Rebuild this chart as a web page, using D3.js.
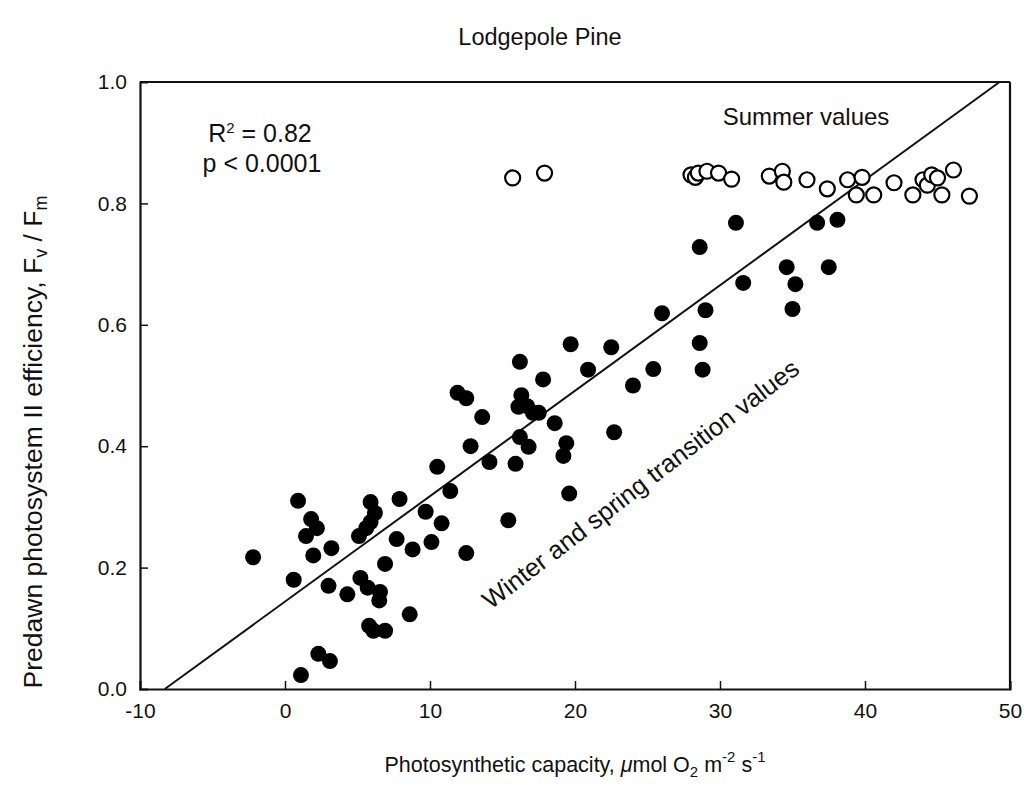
<!DOCTYPE html>
<html><head><meta charset="utf-8">
<script src="https://cdn.jsdelivr.net/npm/d3@7"></script>
<style>body{margin:0;background:#fff}text{font-family:"Liberation Sans",Arial,sans-serif;fill:#111}</style>
</head><body><svg id="c" width="1025" height="803"></svg>
<script>
const winterX=[-2.2,0.6,0.9,1.1,1.45,1.8,1.95,2.2,2.3,3.0,3.1,3.2,4.3,5.1,5.2,5.6,5.7,5.8,5.9,5.9,6.1,6.2,6.5,6.55,6.9,6.9,7.7,7.9,8.6,8.8,9.7,10.1,10.5,10.8,11.4,11.9,12.5,12.5,12.8,13.6,14.1,15.4,15.9,16.1,16.2,16.2,16.3,16.7,16.8,17.1,17.5,17.8,18.6,19.2,19.4,19.6,19.7,20.9,22.5,22.7,24.0,25.4,26.0,28.6,28.6,28.8,29.0,31.1,31.6,34.6,35.0,35.2,36.7,37.5,38.1];
const winterY=[0.217,0.18,0.31,0.023,0.252,0.28,0.22,0.265,0.058,0.17,0.046,0.232,0.156,0.252,0.183,0.265,0.167,0.104,0.275,0.308,0.096,0.29,0.146,0.16,0.206,0.096,0.247,0.313,0.123,0.23,0.292,0.242,0.366,0.273,0.326,0.488,0.479,0.224,0.4,0.448,0.374,0.278,0.371,0.465,0.539,0.415,0.484,0.466,0.399,0.455,0.455,0.51,0.438,0.384,0.405,0.322,0.568,0.526,0.563,0.423,0.5,0.527,0.619,0.57,0.728,0.526,0.624,0.768,0.669,0.695,0.626,0.667,0.768,0.695,0.773];
const summerX=[15.7,17.9,28.0,28.3,28.5,29.1,29.9,30.8,33.4,34.3,34.4,36.0,37.4,38.8,39.4,39.8,40.6,42.0,43.3,44.0,44.3,44.6,45.0,45.3,46.1,47.2];
const summerY=[0.842,0.85,0.847,0.843,0.85,0.853,0.85,0.84,0.845,0.853,0.835,0.839,0.824,0.839,0.814,0.843,0.814,0.834,0.814,0.839,0.83,0.847,0.842,0.814,0.855,0.812];
const xTicks=[-10,0,10,20,30,40,50];
const yTicks=[0,0.2,0.4,0.6,0.8,1.0];
const fitIntercept=0.144, fitSlope=0.01737;

const svg=d3.select("#c");
const L=140,R=1010,T=82,B=689;
const x=d3.scaleLinear().domain([-10,50]).range([L,R]);
const y=d3.scaleLinear().domain([0,1]).range([B,T]);

const xa=svg.append("g").attr("transform",`translate(0,${B})`).call(d3.axisBottom(x).tickValues(xTicks).tickSize(-8).tickPadding(14).tickFormat(d=>String(d)));
const ya=svg.append("g").attr("transform",`translate(${L},0)`).call(d3.axisLeft(y).tickValues(yTicks).tickSize(-8).tickPadding(13).tickFormat(d3.format(".1f")));
[xa,ya].forEach(g=>{g.select(".domain").attr("stroke","#111").attr("stroke-width",2.2);
 g.selectAll(".tick line").attr("stroke","#111").attr("stroke-width",1.5);
 g.selectAll(".tick text").style("font-size","21px").attr("fill","#111");});
xa.selectAll(".tick").filter(d=>d===-10||d===50).select("line").remove();
ya.selectAll(".tick").filter(d=>d===0||d===1).select("line").remove();
svg.append("line").attr("x1",L).attr("x2",R).attr("y1",T).attr("y2",T).attr("stroke","#111").attr("stroke-width",2.2);
svg.append("line").attr("x1",R).attr("x2",R).attr("y1",T).attr("y2",B).attr("stroke","#111").attr("stroke-width",2.2);

const x0=(0-fitIntercept)/fitSlope, x1=(1-fitIntercept)/fitSlope;
svg.append("line").attr("x1",x(x0)).attr("y1",y(0)).attr("x2",x(x1)).attr("y2",y(1)).attr("stroke","#111").attr("stroke-width",2);

svg.append("g").selectAll("circle").data(winterX.map((v,i)=>[v,winterY[i]])).join("circle")
 .attr("cx",d=>x(d[0])).attr("cy",d=>y(d[1])).attr("r",8).attr("fill","#000");
svg.append("g").selectAll("circle").data(summerX.map((v,i)=>[v,summerY[i]])).join("circle")
 .attr("cx",d=>x(d[0])).attr("cy",d=>y(d[1])).attr("r",7.5).attr("fill","#fff").attr("stroke","#000").attr("stroke-width",2.2);

svg.append("text").attr("x",540).attr("y",45).attr("text-anchor","middle").style("font-size","23.5px").text("Lodgepole Pine");
const r2=svg.append("text").attr("x",260).attr("y",142).attr("text-anchor","middle").style("font-size","25px");
r2.append("tspan").text("R");r2.append("tspan").attr("dy",-9).style("font-size","15px").text("2");r2.append("tspan").attr("dy",9).text(" = 0.82");
svg.append("text").attr("x",262).attr("y",172).attr("text-anchor","middle").style("font-size","25px").text("p < 0.0001");
svg.append("text").attr("x",806).attr("y",125).attr("text-anchor","middle").style("font-size","24px").text("Summer values");
svg.append("text").attr("transform","translate(646,491) rotate(-37.5)").attr("text-anchor","middle").style("font-size","25.5px").text("Winter and spring transition values");

const xl=svg.append("text").attr("x",575).attr("y",772).attr("text-anchor","middle").style("font-size","21.5px");
xl.append("tspan").text("Photosynthetic capacity, ");
xl.append("tspan").style("font-style","italic").text("μ");
xl.append("tspan").text("mol O");
xl.append("tspan").attr("dy",5).style("font-size","15px").text("2");
xl.append("tspan").attr("dy",-5).text(" m");
xl.append("tspan").attr("dy",-10).style("font-size","15px").text("-2");
xl.append("tspan").attr("dy",10).text(" s");
xl.append("tspan").attr("dy",-10).style("font-size","15px").text("-1");

const yl=svg.append("text").attr("transform","translate(42,442) rotate(-90)").attr("text-anchor","middle").style("font-size","26.5px");
yl.append("tspan").text("Predawn photosystem II efficiency, F");
yl.append("tspan").attr("dy",5).style("font-size","18px").text("v");
yl.append("tspan").attr("dy",-5).text(" / F");
yl.append("tspan").attr("dy",5).style("font-size","18px").text("m");
</script></body></html>
